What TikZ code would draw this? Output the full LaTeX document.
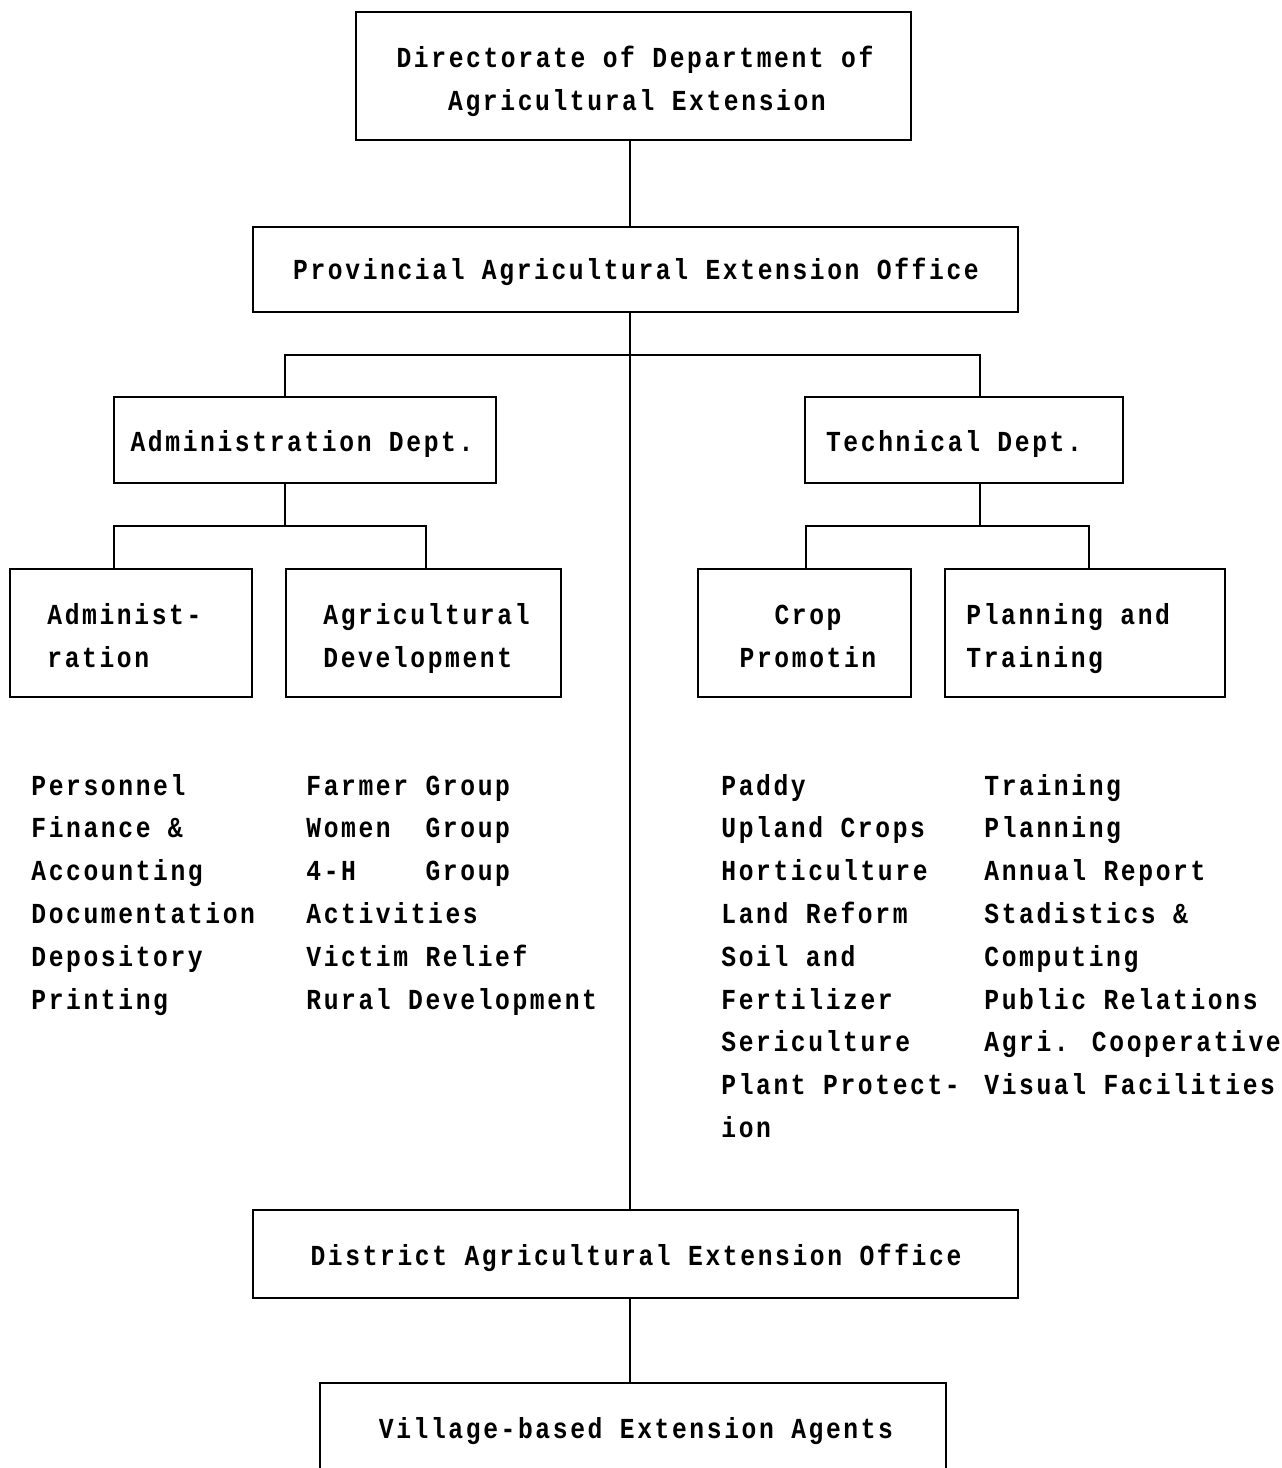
\documentclass[tikz,border=0pt]{standalone}
\usepackage{fontspec}
\newfontfamily\tw[FakeStretch=0.85,LetterSpace=9]{Liberation Mono}
\begin{document}
\begin{tikzpicture}[x=0.5pt,y=-0.5pt,
  lbl/.style={font=\tw\bfseries\fontsize{14.5pt}{20pt}\selectfont, inner sep=0pt},
  box/.style={draw, line width=1pt, inner sep=0pt},
  ctxt/.style={lbl, anchor=base},
  ltxt/.style={lbl, anchor=base west},
  link/.style={line width=1pt}]
\useasboundingbox (0,0) rectangle (1281,1468);
\clip (0,0) rectangle (1281,1468);
\fill[white] (0,0) rectangle (1281,1468);
% boxes
\node[box, minimum width=277.5pt, minimum height=64pt] (dir) at (633.5,76) {};
\node[box, minimum width=382.5pt, minimum height=42.5pt] (prov) at (635.5,269.5) {};
\node[box, minimum width=191pt, minimum height=43pt] (adept) at (305,440) {};
\node[box, minimum width=159pt, minimum height=43pt] (tdept) at (964,440) {};
\node[box, minimum width=121pt, minimum height=64pt] (adm) at (131,633) {};
\node[box, minimum width=137.5pt, minimum height=64pt] (agr) at (423.5,633) {};
\node[box, minimum width=106.5pt, minimum height=64pt] (crop) at (804.5,633) {};
\node[box, minimum width=140pt, minimum height=64pt] (plan) at (1085,633) {};
\node[box, minimum width=382.5pt, minimum height=44pt] (dist) at (635.5,1254) {};
\node[box, minimum width=313pt, minimum height=47pt] (vil) at (633,1430) {};
% box texts
\node[ctxt] (dirt1) at (635,67) {Directorate of Department of};
\node[ctxt] (dirt2) at (637,110) {Agricultural Extension};
\node[ctxt] (provt) at (636,279) {Provincial Agricultural Extension Office};
\node[ctxt] (adeptt) at (302,451) {Administration Dept.};
\node[ctxt] (tdeptt) at (954,451) {Technical Dept.};
\node[ltxt] (admt1) at (47,624) {Administ-};
\node[ltxt] (admt2) at (47,667) {ration};
\node[ltxt] (agrt1) at (323,624) {Agricultural};
\node[ltxt] (agrt2) at (323,667) {Development};
\node[ctxt] (cropt1) at (808,624) {Crop};
\node[ctxt] (cropt2) at (808,667) {Promotin};
\node[ltxt] (plant1) at (966,624) {Planning and};
\node[ltxt] (plant2) at (966,667) {Training};
\node[ctxt] (distt) at (636,1265) {District Agricultural Extension Office};
\node[ctxt] (vilt) at (636,1438) {Village-based Extension Agents};
% trunk
\coordinate (trunk) at (630,0);
\draw[link] (dir.south -| trunk) -- (prov.north -| trunk);
\draw[link] (prov.south -| trunk) -- (dist.north -| trunk);
\draw[link] (dist.south -| trunk) -- (vil.north -| trunk);
% department bar
\coordinate (ja) at (285,355);
\coordinate (jt) at (980,355);
\draw[link] (ja |- adept.north) -- (ja) -- (jt) -- (jt |- tdept.north);
% admin sub bar
\coordinate (sa1) at (114,526);
\coordinate (sa2) at (426,526);
\draw[link] (ja |- adept.south) -- (ja |- sa1);
\draw[link] (sa1 |- adm.north) -- (sa1) -- (sa2) -- (sa2 |- agr.north);
% tech sub bar
\coordinate (st1) at (806,526);
\coordinate (st2) at (1089,526);
\draw[link] (jt |- tdept.south) -- (jt |- st1);
\draw[link] (st1 |- crop.north) -- (st1) -- (st2) -- (st2 |- plan.north);
% lists
\foreach \t [count=\i] in {Personnel,{Finance \&},Accounting,Documentation,Depository,Printing}
  \node[ltxt] (la\i) at (31,{795+42.8*(\i-1)}) {\t};
\foreach \t [count=\i] in {Farmer Group,{Women\ \ Group},{4-H\ \ \ \ Group},Activities,Victim Relief,Rural Development}
  \node[ltxt] (lb\i) at (306,{795+42.8*(\i-1)}) {\t};
\foreach \t [count=\i] in {Paddy,Upland Crops,Horticulture,Land Reform,Soil and,Fertilizer,Sericulture,Plant Protect-,ion}
  \node[ltxt] (lc\i) at (721,{795+42.8*(\i-1)}) {\t};
\foreach \t [count=\i] in {Training,Planning,Annual Report,{Stadistics \&},Computing,Public Relations,Agri. Cooperative,Visual Facilities}
  \node[ltxt] (ld\i) at (984,{795+42.8*(\i-1)}) {\t};
\end{tikzpicture}
\end{document}
